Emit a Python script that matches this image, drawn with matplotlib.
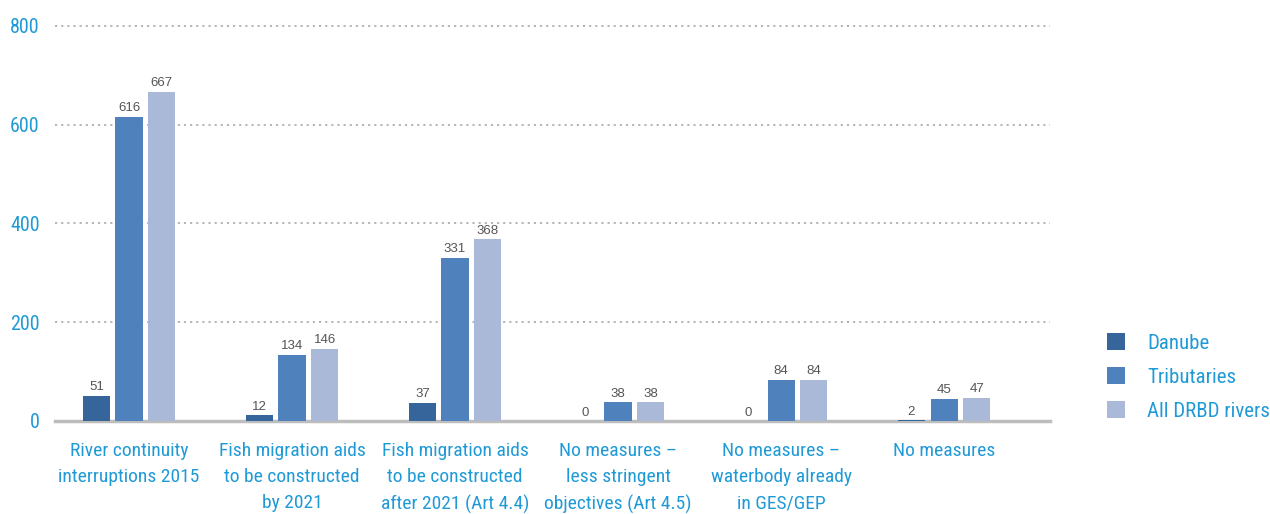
import numpy as np
import matplotlib
matplotlib.use("Agg")
import matplotlib.pyplot as plt

categories = [
    "River continuity\ninterruptions 2015",
    "Fish migration aids\nto be constructed\nby 2021",
    "Fish migration aids\nto be constructed\nafter 2021 (Art 4.4)",
    "No measures \u2013\nless stringent\nobjectives (Art 4.5)",
    "No measures \u2013\nwaterbody already\nin GES/GEP",
    "No measures",
]
series_names = ["Danube", "Tributaries", "All DRBD rivers"]
danube = [51, 12, 37, 0, 0, 2]
tributaries = [616, 134, 331, 38, 84, 45]
all_rivers = [667, 146, 368, 38, 84, 47]
y_ticks = [0, 200, 400, 600, 800]

colors = ["#35659a", "#4f81bd", "#aab9d7"]
blue_text = "#1f9ad6"
cond = ["Roboto Condensed", "DejaVu Sans"]

fig = plt.figure(figsize=(12.7, 5.14), dpi=100)
ax = fig.add_axes([55 / 1270, 93 / 514, 995 / 1270, 395 / 514])

x = np.arange(len(categories))
width = 0.166
step = 0.2
for i, (vals, name) in enumerate(zip([danube, tributaries, all_rivers], series_names)):
    pos = x + (i - 1) * step
    ax.bar(pos, vals, width=width, color=colors[i], label=name, zorder=3)
    for xp, v in zip(pos, vals):
        ax.text(xp, v + 5, str(v), ha="center", va="bottom", fontsize=9.5,
                color="#555555", family="Liberation Sans", zorder=4)

ax.set_xlim(-0.454, 5.65)
ax.set_ylim(0, 800)
ax.set_yticks(y_ticks)
ax.set_yticklabels([str(t) for t in y_ticks], fontsize=14.5, color=blue_text, family=cond)
ax.set_xticks(x)
ax.set_xticklabels(categories, fontsize=14, color=blue_text, family=cond, linespacing=1.58)
ax.tick_params(axis="both", length=0)
ax.tick_params(axis="x", pad=15)
ax.tick_params(axis="y", pad=11)

for t in y_ticks[1:]:
    ax.axhline(t, color="#b0b0b0", lw=1.3, ls=(0, (1.2, 2.2)), zorder=1, clip_on=False)
for s in ["top", "right", "left"]:
    ax.spines[s].set_visible(False)
ax.spines["bottom"].set_color("#bdbdbd")
ax.spines["bottom"].set_linewidth(2.5)

leg = fig.legend(loc="center left", bbox_to_anchor=(1107 / 1270, (514 - 377) / 514), frameon=False,
                 prop={"family": cond, "size": 15}, handlelength=0.87, handleheight=0.87,
                 labelspacing=0.7, handletextpad=1.05, borderpad=0, borderaxespad=0)
for txt in leg.get_texts():
    txt.set_color(blue_text)

fig.savefig("out.png", dpi=100)
